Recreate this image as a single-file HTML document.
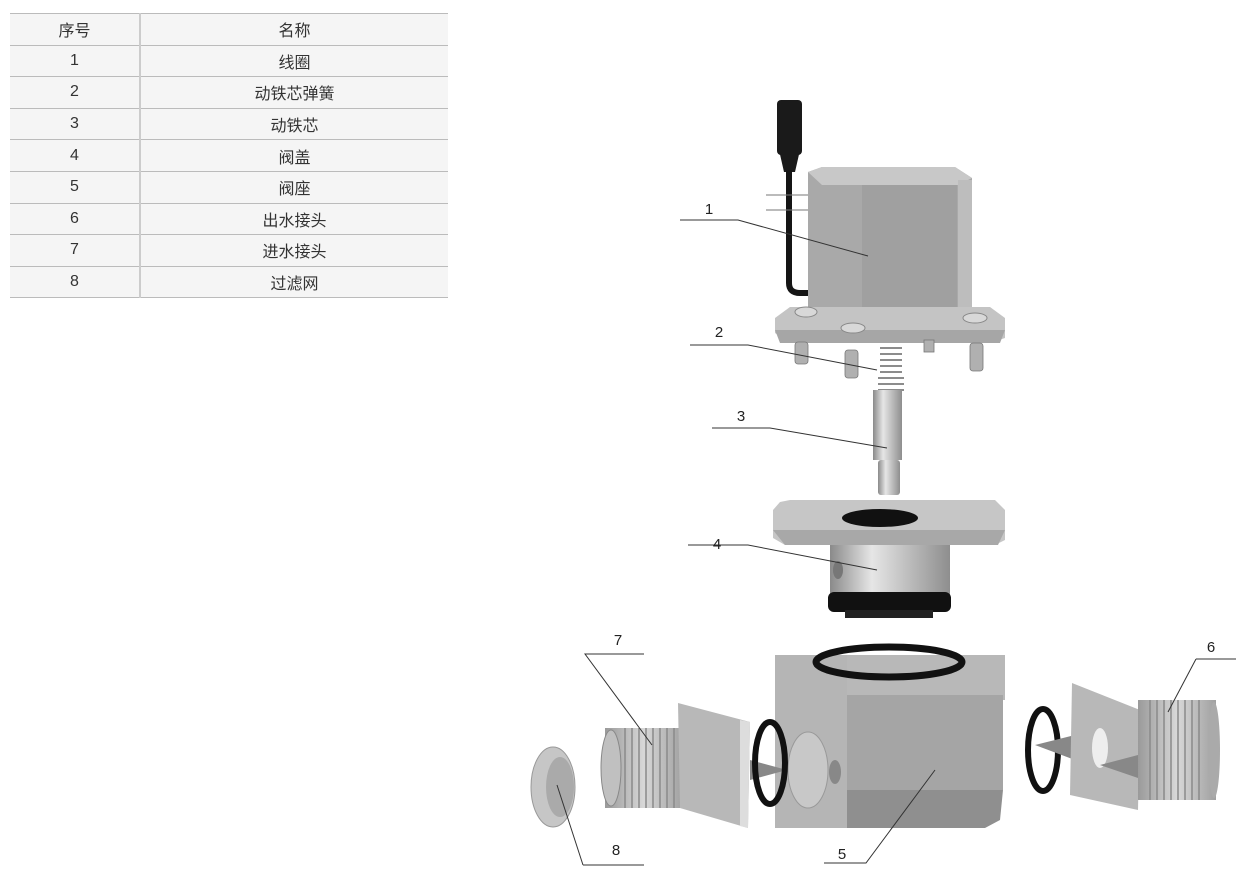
<!DOCTYPE html>
<html><head><meta charset="utf-8"><style>
html,body{margin:0;padding:0;background:#fff;width:1259px;height:890px;overflow:hidden;font-family:"Liberation Sans","Noto Sans CJK SC",sans-serif;}
table{position:absolute;left:10px;top:13px;width:438px;border-collapse:collapse;background:#f5f5f5;font-size:16px;color:#333;}
td{height:30.6px;border-top:1px solid #bbb;border-bottom:1px solid #bbb;text-align:center;padding:0;}
td:first-child{width:129px;border-right:2px solid #ccc;}
svg{position:absolute;left:0;top:0;}
</style></head><body>
<table>
<tr><td>序号</td><td>名称</td></tr>
<tr><td>1</td><td>线圈</td></tr>
<tr><td>2</td><td>动铁芯弹簧</td></tr>
<tr><td>3</td><td>动铁芯</td></tr>
<tr><td>4</td><td>阀盖</td></tr>
<tr><td>5</td><td>阀座</td></tr>
<tr><td>6</td><td>出水接头</td></tr>
<tr><td>7</td><td>进水接头</td></tr>
<tr><td>8</td><td>过滤网</td></tr>
</table>
<svg width="1259" height="890" viewBox="0 0 1259 890">
<defs>
<linearGradient id="cyl" x1="0" x2="1"><stop offset="0" stop-color="#8a8a8a"/><stop offset=".35" stop-color="#e6e6e6"/><stop offset="1" stop-color="#8e8e8e"/></linearGradient>
<linearGradient id="thr" x1="0" x2="1"><stop offset="0" stop-color="#9a9a9a"/><stop offset=".5" stop-color="#d8d8d8"/><stop offset="1" stop-color="#a0a0a0"/></linearGradient>
</defs>
<rect x="777" y="100" width="25" height="55" rx="4" fill="#1a1a1a"/>
<polygon points="779,150 800,150 795,172 784,172" fill="#1a1a1a"/>
<path d="M789,170 L789,283 Q789,293 800,293 L810,293" stroke="#151515" stroke-width="6" fill="none"/>
<line x1="766" y1="195" x2="808" y2="195" stroke="#777" stroke-width="1"/>
<line x1="766" y1="210" x2="808" y2="210" stroke="#777" stroke-width="1"/>
<polygon points="808,172 822,167 955,167 972,178 972,325 808,325" fill="#a9a9a9"/>
<polygon points="808,172 822,167 955,167 972,178 958,185 822,185" fill="#c8c8c8"/>
<rect x="862" y="185" width="95" height="140" fill="#a0a0a0"/>
<rect x="958" y="180" width="14" height="145" fill="#bdbdbd"/>
<polygon points="775,318 790,307 990,307 1005,318 1005,338 990,343 790,343 775,333" fill="#c4c4c4"/>
<polygon points="775,330 1005,330 1000,343 780,343" fill="#a6a6a6"/>
<ellipse cx="806" cy="312" rx="11" ry="5" fill="#d8d8d8" stroke="#888"/>
<ellipse cx="853" cy="328" rx="12" ry="5" fill="#d8d8d8" stroke="#888"/>
<ellipse cx="975" cy="318" rx="12" ry="5" fill="#d8d8d8" stroke="#888"/>
<g fill="#b0b0b0" stroke="#777" stroke-width=".8">
<rect x="795" y="342" width="13" height="22" rx="3"/><rect x="845" y="350" width="13" height="28" rx="3"/><rect x="970" y="343" width="13" height="28" rx="3"/><rect x="924" y="340" width="10" height="12"/>
</g>
<g stroke="#666" stroke-width="1.5" fill="none">
<path d="M880,348h22M880,354h22M880,360h22M880,366h22M880,372h22M878,378h26M878,384h26M878,390h26"/>
</g>
<rect x="873" y="390" width="29" height="70" fill="url(#cyl)"/>
<rect x="878" y="460" width="22" height="35" rx="3" fill="url(#cyl)"/>
<rect x="830" y="525" width="120" height="75" fill="url(#cyl)"/>
<rect x="828" y="592" width="123" height="20" rx="6" fill="#111"/>
<rect x="845" y="610" width="88" height="8" fill="#222"/>
<polygon points="780,502 790,500 995,500 1005,510 1005,540 995,545 785,545 773,538 773,510" fill="#c6c6c6"/>
<polygon points="773,530 1005,530 998,545 785,545" fill="#a8a8a8"/>
<ellipse cx="880" cy="518" rx="38" ry="9" fill="#111"/>
<ellipse cx="838" cy="570" rx="5" ry="9" fill="#777"/>
<rect x="775" y="655" width="230" height="45" fill="#b8b8b8"/>
<rect x="775" y="695" width="228" height="95" fill="#a5a5a5"/>
<polygon points="775,790 1003,790 1000,820 985,828 790,828 775,815" fill="#8f8f8f"/>
<rect x="775" y="655" width="72" height="173" fill="#b5b5b5"/>
<ellipse cx="808" cy="770" rx="20" ry="38" fill="#c8c8c8" stroke="#999"/>
<ellipse cx="835" cy="772" rx="6" ry="12" fill="#888"/>
<ellipse cx="889" cy="662" rx="73" ry="15" fill="none" stroke="#111" stroke-width="7"/>
<rect x="605" y="728" width="78" height="80" fill="url(#thr)"/>
<g stroke="#8a8a8a" stroke-width="1.5"><path d="M625,728v80M632,728v80M639,728v80M646,728v80M653,728v80M660,728v80M667,728v80M674,728v80"/></g>
<ellipse cx="611" cy="768" rx="10" ry="38" fill="#c0c0c0" stroke="#888"/>
<polygon points="678,703 750,722 748,828 680,808" fill="#b8b8b8"/>
<polygon points="740,720 750,722 748,828 740,826" fill="#ddd"/>
<polygon points="750,760 787,770 750,780" fill="#888"/>
<ellipse cx="770" cy="763" rx="15" ry="41" fill="none" stroke="#111" stroke-width="6"/>
<ellipse cx="553" cy="787" rx="22" ry="40" fill="#c6c6c6" stroke="#999"/>
<ellipse cx="560" cy="787" rx="14" ry="30" fill="#aaa"/>
<ellipse cx="1043" cy="750" rx="15" ry="41" fill="none" stroke="#111" stroke-width="6"/>
<polygon points="1035,745 1075,735 1075,760" fill="#888"/>
<polygon points="1072,683 1140,710 1138,810 1070,795" fill="#b8b8b8"/>
<ellipse cx="1100" cy="748" rx="8" ry="20" fill="#eee"/>
<rect x="1138" y="700" width="78" height="100" fill="url(#thr)"/>
<g stroke="#8a8a8a" stroke-width="1.5"><path d="M1150,700v100M1157,700v100M1164,700v100M1171,700v100M1178,700v100M1185,700v100M1192,700v100M1199,700v100"/></g>
<ellipse cx="1214" cy="750" rx="6" ry="48" fill="#aaa"/>
<polygon points="1100,765 1138,755 1138,778" fill="#888"/>
<g stroke="#333" stroke-width="1" fill="none">
<polyline points="680,220 738,220 868,256"/>
<polyline points="690,345 748,345 877,370"/>
<polyline points="712,428 770,428 887,448"/>
<polyline points="688,545 748,545 877,570"/>
<polyline points="644,654 585,654 652,745"/>
<polyline points="1196,659 1236,659"/><polyline points="1196,659 1168,712"/>
<polyline points="583,865 644,865"/><polyline points="583,865 557,785"/>
<polyline points="824,863 866,863 935,770"/>
</g>
<g font-family="Liberation Sans" font-size="15" fill="#222" text-anchor="middle">
<text x="709" y="214">1</text><text x="719" y="337">2</text><text x="741" y="421">3</text><text x="717" y="549">4</text>
<text x="842" y="859">5</text><text x="1211" y="652">6</text><text x="618" y="645">7</text><text x="616" y="855">8</text>
</g>
</svg>
</body></html>
